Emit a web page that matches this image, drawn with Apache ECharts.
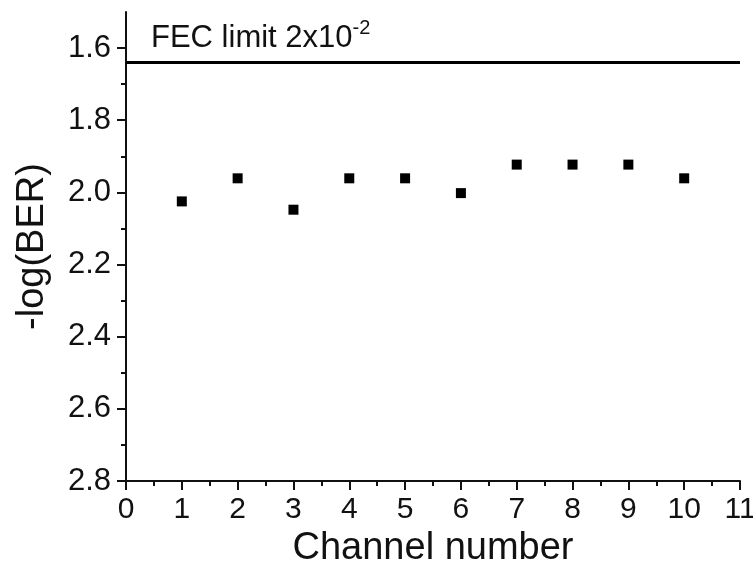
<!DOCTYPE html>
<html>
<head>
<meta charset="utf-8">
<script src="https://cdn.jsdelivr.net/npm/echarts@6/dist/echarts.min.js"></script>
<style>
html,body{margin:0;padding:0;background:#fff;}
#chart{width:753px;height:566px;}
</style>
</head>
<body>
<div id="chart"></div>
<script>
var channels = [1, 2, 3, 4, 5, 6, 7, 8, 9, 10];
var logBer = [2.025, 1.961, 2.048, 1.961, 1.961, 2.002, 1.923, 1.923, 1.923, 1.961];
var fecLimit = 1.643;
var yTicks = [1.6, 1.8, 2.0, 2.2, 2.4, 2.6, 2.8];
var yMinor = [1.7, 1.9, 2.1, 2.3, 2.5, 2.7];

var font = 'Liberation Sans, Arial, sans-serif';
var ink = '#111';

var points = [];
for (var i = 0; i < channels.length; i++) {
	points.push([channels[i], logBer[i]]);
}

var chart = echarts.init(document.getElementById('chart'));
var option = {
	backgroundColor: '#fff',
	animation: false,
	title: {
		left: 146,
		top: 13,
		text: '{a|FEC limit 2x10}{s|-2}',
		textStyle: {
			rich: {
				a: {fontSize: 31, fontFamily: font, fontWeight: 'normal', color: ink, verticalAlign: 'bottom'},
				s: {fontSize: 20, fontFamily: font, fontWeight: 'normal', color: ink, verticalAlign: 'top', padding: [0, 0, 16, 0]}
			}
		}
	},
	grid: {left: 126, right: 13, top: 12, bottom: 85, containLabel: false, outerBoundsMode: 'none'},
	xAxis: {
		type: 'value',
		min: 0,
		max: 11,
		interval: 1,
		name: 'Channel number',
		nameLocation: 'middle',
		nameGap: 48,
		nameTextStyle: {fontSize: 38, fontFamily: font, color: ink},
		axisLine: {lineStyle: {color: ink, width: 2}},
		axisTick: {length: 9, lineStyle: {color: ink, width: 2}},
		minorTick: {show: true, splitNumber: 2, length: 5, lineStyle: {color: ink, width: 2}},
		axisLabel: {fontSize: 30, fontFamily: font, color: ink, margin: 14},
		splitLine: {show: false}
	},
	yAxis: [{
		type: 'value',
		inverse: true,
		min: 1.5,
		max: 2.8,
		name: '-log(BER)',
		nameLocation: 'middle',
		nameGap: 74,
		nameRotate: 90,
		nameTextStyle: {fontSize: 38, fontFamily: font, color: ink},
		axisLine: {show: true, lineStyle: {color: ink, width: 2}},
		axisTick: {show: true, length: 9, customValues: yTicks, lineStyle: {color: ink, width: 2}},
		axisLabel: {fontSize: 31, fontFamily: font, color: ink, margin: 15, customValues: yTicks,
			formatter: function (v) { return v.toFixed(1); }},
		splitLine: {show: false}
	}, {
		type: 'value',
		inverse: true,
		min: 1.5,
		max: 2.8,
		position: 'left',
		axisLine: {show: false},
		axisTick: {show: true, length: 5, customValues: yMinor, lineStyle: {color: ink, width: 2}},
		axisLabel: {show: false},
		splitLine: {show: false}
	}],
	series: [{
		type: 'scatter',
		data: points,
		symbol: 'rect',
		symbolSize: 10,
		itemStyle: {color: '#000', opacity: 1},
		markLine: {
			silent: true,
			symbol: 'none',
			label: {show: false},
			lineStyle: {color: '#000', width: 3, type: 'solid'},
			data: [{yAxis: fecLimit}]
		}
	}]
};
chart.setOption(option);
</script>
</body>
</html>
